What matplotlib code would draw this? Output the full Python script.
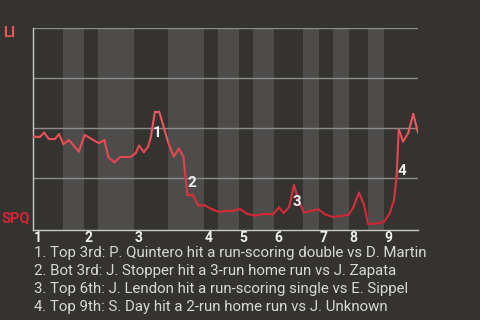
import numpy as np
import matplotlib
matplotlib.use('Agg')
import matplotlib.pyplot as plt
from matplotlib.collections import LineCollection
from matplotlib.colors import LinearSegmentedColormap

plt.rcParams['font.family'] = ['Roboto', 'DejaVu Sans']

# win probability for LI (top team), by play number
plays = [0, 1.6, 2.6, 3.7, 5.1, 6.1, 7.1, 8.4, 10.7, 12.1, 15.4, 16.7, 17.6, 19.0,
         20.3, 22.7, 24.0, 24.8, 25.9, 26.9, 27.5, 28.5, 29.5, 31.6, 32.9, 34.1,
         35.2, 35.5, 36.1, 37.3, 38.7, 40.0, 41.8, 43.5, 45.4, 46.8, 48.4, 50.1,
         51.9, 54.2, 56.1, 57.5, 58.6, 59.9, 61.0, 62.0, 63.3, 64.3, 66.7, 68.2,
         70.1, 73.7, 74.8, 76.2, 77.4, 78.3, 81.1, 82.1, 83.4, 84.4, 85.0, 85.5,
         86.5, 87.7, 88.9, 90.0]
wp = [45.7, 45.5, 47.7, 44.5, 44.5, 46.9, 41.9, 44.0, 38.2, 46.5, 42.4, 44.0, 35.4, 32.9,
      35.4, 35.4, 37.4, 41.2, 37.9, 40.7, 44.9, 58.2, 58.2, 42.8, 35.7, 39.7,
      35.5, 28.2, 16.3, 16.7, 11.0, 11.5, 9.4, 8.0, 8.7, 8.7, 9.5, 7.0,
      6.2, 7.0, 6.8, 10.3, 7.5, 10.5, 21.4, 14.5, 7.7, 8.2, 9.4, 6.9,
      5.5, 6.5, 9.9, 17.7, 11.5, 2.0, 2.4, 3.2, 7.4, 14.0, 25.7, 49.4,
      43.2, 47.4, 57.0, 47.7]

# start of each top half and each bottom half
top_starts = [0, 11.9, 23.6, 40.0, 48.1, 56.3, 66.8, 73.8, 82.0]
bot_starts = [7.0, 15.2, 31.5, 43.2, 51.4, 63.1, 70.1, 78.3]
innings = ['1', '2', '3', '4', '5', '6', '7', '8', '9']
last_play = 90.0

# key plays: label, play, label position (wp)
key_labels = ['1', '2', '3', '4']
key_plays = [29.0, 37.1, 61.6, 86.3]
key_wp = [47.5, 22.6, 13.2, 28.7]
key_text = [
    '1. Top 3rd: P. Quintero hit a run-scoring double vs D. Martin',
    '2. Bot 3rd: J. Stopper hit a 3-run home run vs J. Zapata',
    '3. Top 6th: J. Lendon hit a run-scoring single vs E. Sippel',
    '4. Top 9th: S. Day hit a 2-run home run vs J. Unknown',
]

bg = '#353330'
fig = plt.figure(figsize=(4.8, 3.2), dpi=100, facecolor=bg)
ax = fig.add_axes([33/480, 1-230/320, 385/480, 202/320])
ax.set_facecolor(bg)
ax.set_xlim(0, last_play)
ax.set_ylim(-1, 100)

for b, t in zip(bot_starts, top_starts[1:]):
    ax.axvspan(b, t, color='#4d4c4a', lw=0, zorder=0)

for g in [25, 50, 75, 100]:
    ax.axhline(g, color='#8c8c8c', lw=1, zorder=1)

for s in ['top', 'right']:
    ax.spines[s].set_visible(False)
for s in ['left', 'bottom']:
    ax.spines[s].set_color('#c8c8c8')
    ax.spines[s].set_linewidth(1)
ax.set_xticks([])
ax.set_yticks([])

# win prob line, shaded darker toward the bottom
pts = np.array([plays, wp]).T.reshape(-1, 1, 2)
segs = np.concatenate([pts[:-1], pts[1:]], axis=1)
cmap = LinearSegmentedColormap.from_list('wp', ['#d0202f', '#f06068'])
mid = (np.array(wp[:-1]) + np.array(wp[1:])) / 2
lc = LineCollection(segs, colors=cmap(np.clip(mid / 60, 0, 1)), linewidth=1.5,
                    zorder=3, capstyle='round', joinstyle='round')
ax.add_collection(lc)

for lab, px, py in zip(key_labels, key_plays, key_wp):
    ax.text(px, py, lab, color='#f0f0f0', fontsize=11, fontweight='bold',
            ha='center', va='center', zorder=4)

for lab, s in zip(innings, top_starts):
    ax.annotate(lab, xy=(s, 0), xycoords=('data', 'axes fraction'),
                xytext=(0.5, -0.5), textcoords='offset points',
                color='#eeeeee', fontsize=10, fontweight='bold',
                ha='left', va='top', annotation_clip=False)

fig.text(3/480, 1-33/320, 'LI', color='#e9555f', fontsize=10.5,
         fontweight='bold', ha='left', va='center')
fig.text(2/480, 1-218/320, 'SPQ', color='#d42535', fontsize=10.5,
         fontweight='bold', ha='left', va='center')

for i, t in enumerate(key_text):
    fig.text(34/480, 1-(253 + 18*i)/320, t, color='#d8d8d8', fontsize=10.8,
             ha='left', va='center')

fig.savefig('out.png', dpi=100, facecolor=bg)
